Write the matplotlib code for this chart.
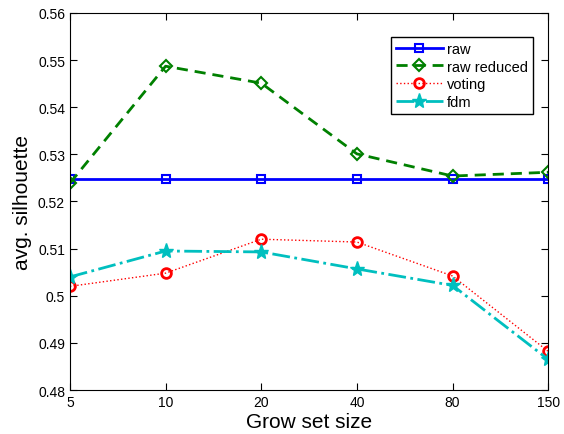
import numpy as np
import matplotlib
matplotlib.use("Agg")
import matplotlib.pyplot as plt

plt.rcParams['font.family'] = ['Liberation Sans', 'DejaVu Sans']

# datos
tamanos = ["5", "10", "20", "40", "80", "150"]
raw = [0.5248, 0.5248, 0.5248, 0.5248, 0.5248, 0.5248]
raw_reduced = [0.5239, 0.5487, 0.5451, 0.5301, 0.5254, 0.5262]
voting = [0.5020, 0.5048, 0.5120, 0.5114, 0.5042, 0.4882]
fdm = [0.5040, 0.5095, 0.5093, 0.5057, 0.5022, 0.4865]

x = np.arange(len(tamanos))

fig = plt.figure(figsize=(5.64, 4.35), dpi=100)
ax = fig.add_axes([0.124, 0.101, 0.848, 0.867])

ax.plot(x, raw, '-s', color='#0000ff', lw=2, ms=6, mfc='none', mew=1.5, label='raw')
ax.plot(x, raw_reduced, '--D', color='#008000', lw=2, ms=6, mfc='none', mew=1.5,
        dashes=(4, 2.5), label='raw reduced')
ax.plot(x, voting, ':o', color='#ff0000', lw=1, ms=7, mfc='none', mew=2, label='voting')
ax.plot(x, fdm, '-.*', color='#00bfbf', lw=2, ms=11, label='fdm')

ax.set_xlim(0, 5)
ax.set_ylim(0.48, 0.56)
ax.set_xticks(x)
ax.set_xticklabels(tamanos)
ax.set_yticks(np.arange(0.48, 0.5601, 0.01))
ax.set_yticklabels(["%g" % v for v in np.round(np.arange(0.48, 0.5601, 0.01), 2)])
ax.tick_params(direction='in', top=True, right=True, labelsize=10, length=5)
ax.set_xlabel("Grow set size", fontsize=15, labelpad=2)
ax.set_ylabel("avg. silhouette", fontsize=15)

leg = ax.legend(loc='upper right', bbox_to_anchor=(0.984, 0.956), fontsize=10.5,
                fancybox=False, framealpha=1, edgecolor='black',
                handlelength=3.2, labelspacing=0.25, borderpad=0.35, handletextpad=0.3)
leg.get_frame().set_linewidth(1)

plt.savefig("out.png", dpi=100)
